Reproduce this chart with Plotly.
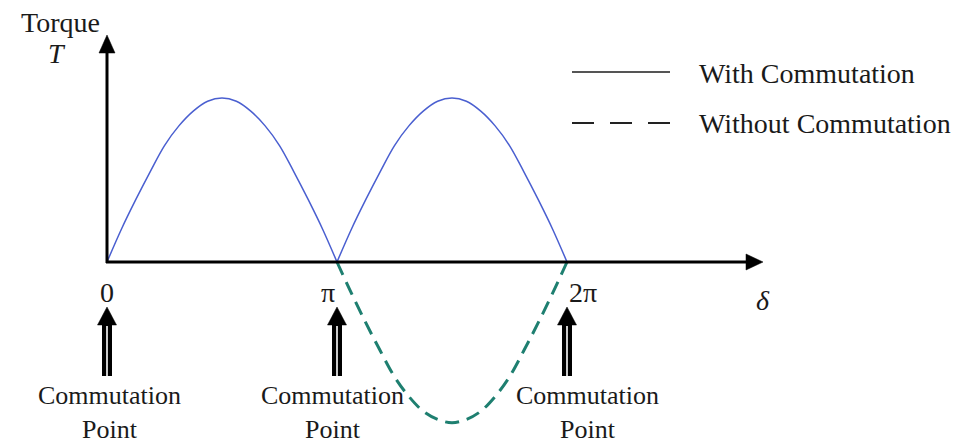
import plotly.graph_objects as go

# ---------------- data (delta in units of pi, torque normalised) ----------------
delta_hump = [0, 0.0625, 0.125, 0.1875, 0.25, 0.3125, 0.375, 0.4375, 0.5,
              0.5625, 0.625, 0.6875, 0.75, 0.8125, 0.875, 0.9375, 1.0]
torque_hump = [0, 0.20, 0.38, 0.55, 0.71, 0.83, 0.92, 0.98, 1.0,
               0.98, 0.92, 0.83, 0.71, 0.55, 0.38, 0.20, 0]
delta_with = delta_hump + [None] + [1 + d for d in delta_hump]
torque_with = torque_hump + [None] + torque_hump
delta_without = [1 + d for d in delta_hump]
torque_without = [0, -0.19, -0.37, -0.54, -0.70, -0.82, -0.91, -0.96, -0.98,
                  -0.96, -0.91, -0.82, -0.70, -0.54, -0.37, -0.19, 0]
commutation_points = [0, 1, 2]
tick_labels = ["0", "π", "2π"]
point_label = "Commutation<br>Point"
series_names = ["With Commutation", "Without Commutation"]

# ---------------- pixel <-> data mapping (window pixels) ----------------
OFF = 8               # page body margin
W, H = 961, 446
X0, XS = 107, 230     # pixel of delta=0, pixels per pi
Y0, YS = 262, 164     # pixel of torque=0, pixels per unit torque


def X(px):
    return (px - X0) / XS


def Y(py):
    return (Y0 - py) / YS


def px_of(x):
    return X0 + XS * x


FONT = "Liberation Serif, Times New Roman, serif"
TXT = "#1a1a1a"
FS = 28

fig = go.Figure()
fig.add_trace(go.Scatter(x=delta_with, y=torque_with, mode="lines",
                         line=dict(color="#4a5fd0", width=1.5, shape="spline"),
                         name=series_names[0], showlegend=False, hoverinfo="skip"))
fig.add_trace(go.Scatter(x=delta_without, y=torque_without, mode="lines",
                         line=dict(color="#1e7f70", width=3, shape="spline", dash="14px,8px"),
                         name=series_names[1], showlegend=False, hoverinfo="skip"))

shapes = []
annotations = []


def tri(points, color="black"):
    p = "M " + " L ".join(f"{X(a)},{Y(b)}" for a, b in points) + " Z"
    return dict(type="path", path=p, xref="x", yref="y", fillcolor=color,
                line=dict(color=color, width=0.5), layer="above")


# axes
shapes.append(dict(type="line", xref="x", yref="y", x0=X(106), x1=X(750), y0=Y(262), y1=Y(262),
                   line=dict(color="black", width=3)))
shapes.append(dict(type="line", xref="x", yref="y", x0=X(107), x1=X(107), y0=Y(263), y1=Y(48),
                   line=dict(color="black", width=3)))
shapes.append(tri([(763, 262), (746, 254), (746, 270)]))
shapes.append(tri([(107, 35), (99, 53), (115, 53)]))

# commutation arrows
for cp in commutation_points:
    xc = px_of(cp)
    shapes.append(dict(type="line", xref="x", yref="y", x0=X(xc), x1=X(xc), y0=Y(322), y1=Y(376),
                       line=dict(color="black", width=10)))
    shapes.append(dict(type="line", xref="x", yref="y", x0=X(xc), x1=X(xc), y0=Y(326), y1=Y(377),
                       line=dict(color="white", width=1.6)))
    shapes.append(tri([(xc, 307), (xc - 9.5, 325), (xc + 9.5, 325)]))

# legend samples
shapes.append(dict(type="line", xref="x", yref="y", x0=X(572), x1=X(670), y0=Y(72), y1=Y(72),
                   line=dict(color="#555555", width=2)))
shapes.append(dict(type="line", xref="x", yref="y", x0=X(572), x1=X(670), y0=Y(123), y1=Y(123),
                   line=dict(color="#222222", width=2, dash="22px,16px")))


def txt(s, px, py, size=FS, xanchor="center", italic=False):
    annotations.append(dict(text=s, x=X(px), y=Y(py), xref="x", yref="y", showarrow=False,
                            xanchor=xanchor, yanchor="middle",
                            font=dict(family=FONT, size=size, color=TXT,
                                      style="italic" if italic else "normal")))


txt("Torque", 60, 22)
txt("T", 57, 53, italic=True)
txt("δ", 763, 300, italic=True)
tick_shift = [0, -9, 16]
for cp, lab, sh in zip(commutation_points, tick_labels, tick_shift):
    txt(lab, px_of(cp) + sh, 292)
label_shift = [2, -5, 20]
for cp, s1 in zip(commutation_points, label_shift):
    txt(point_label, px_of(cp) + s1, 412, size=26)

txt(series_names[0], 697, 73, xanchor="left")
txt(series_names[1], 697, 123, xanchor="left")

fig.update_layout(
    width=W - OFF, height=H - OFF, margin=dict(l=0, r=0, t=0, b=0),
    paper_bgcolor="white", plot_bgcolor="white",
    xaxis=dict(range=[X(OFF), X(W)], visible=False, fixedrange=True),
    yaxis=dict(range=[Y(H), Y(OFF)], visible=False, fixedrange=True),
    shapes=shapes, annotations=annotations, showlegend=False,
)
fig.write_html("out.html")
